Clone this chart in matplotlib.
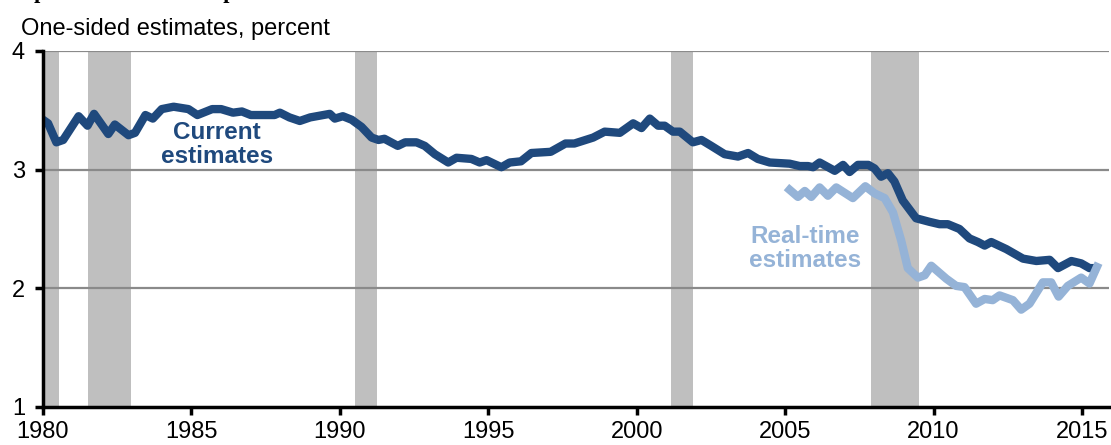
import matplotlib.pyplot as plt

# current estimates (year, percent)
cur_years = [1980.0, 1980.17, 1980.45, 1980.68, 1981.2, 1981.5, 1981.72, 1982.2, 1982.42, 1982.88,
             1983.1, 1983.45, 1983.7, 1984.0, 1984.4, 1984.9, 1985.2, 1985.7, 1986.0, 1986.4,
             1986.7, 1987.0, 1987.8, 1987.98, 1988.3, 1988.65, 1989.0, 1989.66, 1989.83, 1990.1,
             1990.4, 1990.73, 1991.07, 1991.3, 1991.5, 1991.95, 1992.2, 1992.58, 1992.86, 1993.2,
             1993.65, 1993.93, 1994.43, 1994.71, 1994.94, 1995.44, 1995.72, 1996.1, 1996.45, 1997.1,
             1997.6, 1997.9, 1998.53, 1998.92, 1999.43, 1999.88, 2000.16, 2000.44, 2000.72, 2000.94,
             2001.22, 2001.45, 2001.89, 2002.18, 2002.51, 2002.96, 2003.41, 2003.75, 2004.08, 2004.48,
             2005.15, 2005.49, 2005.77, 2005.94, 2006.16, 2006.67, 2006.95, 2007.17, 2007.45, 2007.8,
             2008.01, 2008.23, 2008.46, 2008.68, 2008.96, 2009.41, 2009.86, 2010.2, 2010.48, 2010.87,
             2011.21, 2011.49, 2011.72, 2011.94, 2012.45, 2013.01, 2013.46, 2013.91, 2014.19, 2014.64,
             2014.97, 2015.25, 2015.42]
cur_vals = [3.42, 3.39, 3.23, 3.25, 3.45, 3.37, 3.47, 3.30, 3.38, 3.29,
            3.31, 3.46, 3.43, 3.51, 3.53, 3.51, 3.46, 3.51, 3.51, 3.48,
            3.49, 3.46, 3.46, 3.48, 3.44, 3.41, 3.44, 3.47, 3.43, 3.45,
            3.42, 3.36, 3.27, 3.25, 3.26, 3.20, 3.23, 3.23, 3.20, 3.13,
            3.06, 3.10, 3.09, 3.06, 3.08, 3.02, 3.06, 3.07, 3.14, 3.15,
            3.22, 3.22, 3.27, 3.32, 3.31, 3.39, 3.35, 3.43, 3.37, 3.37,
            3.32, 3.32, 3.23, 3.25, 3.20, 3.13, 3.11, 3.14, 3.09, 3.06,
            3.05, 3.03, 3.03, 3.02, 3.06, 2.99, 3.04, 2.98, 3.04, 3.04,
            3.01, 2.94, 2.97, 2.90, 2.74, 2.59, 2.56, 2.54, 2.54, 2.50,
            2.42, 2.39, 2.36, 2.39, 2.33, 2.25, 2.23, 2.24, 2.17, 2.23,
            2.21, 2.17, 2.17]

# real-time estimates
rt_years = [2005.15, 2005.43, 2005.66, 2005.88, 2006.16, 2006.44, 2006.72, 2007.28, 2007.7, 2008.01,
            2008.35, 2008.63, 2008.91, 2009.13, 2009.47, 2009.7, 2009.92, 2010.43, 2010.76, 2011.04,
            2011.43, 2011.72, 2011.99, 2012.22, 2012.67, 2012.95, 2013.23, 2013.68, 2013.96, 2014.21,
            2014.52, 2014.97, 2015.25, 2015.5]
rt_vals = [2.83, 2.77, 2.82, 2.77, 2.85, 2.78, 2.85, 2.76, 2.86, 2.80,
           2.76, 2.64, 2.40, 2.17, 2.09, 2.11, 2.19, 2.08, 2.02, 2.01,
           1.87, 1.91, 1.90, 1.94, 1.90, 1.82, 1.87, 2.05, 2.05, 1.93,
           2.02, 2.09, 2.04, 2.18]

# recessions (start, end)
rec_start = [1980.0, 1981.5, 1990.5, 2001.17, 2007.9]
rec_end = [1980.55, 1982.95, 1991.25, 2001.9, 2009.5]

x_ticks = [1980, 1985, 1990, 1995, 2000, 2005, 2010, 2015]
y_ticks = [1, 2, 3, 4]

DARK = '#1f497d'
LIGHT = '#95b3d7'

plt.rcParams['font.family'] = ['Liberation Sans', 'DejaVu Sans']

fig = plt.figure(figsize=(11.11, 4.45), dpi=100)
ax = fig.add_axes([0.0387, 0.0855, 0.9593, 0.80])

for s, e in zip(rec_start, rec_end):
    ax.axvspan(s, e, color='#bfbfbf', lw=0, zorder=1)

for v in [2, 3, 4]:
    ax.axhline(v, color='#8a8a8a', lw=1.6, zorder=2)

ax.plot(cur_years, cur_vals, color=DARK, lw=6, solid_joinstyle='round', zorder=3)
ax.plot(rt_years, rt_vals, color=LIGHT, lw=6, solid_joinstyle='round', zorder=4)

ax.text(1985.85, 3.21, 'Current\nestimates', color=DARK, fontsize=17.5, fontweight='bold',
        ha='center', va='center', linespacing=1.05)
ax.text(2005.66, 2.335, 'Real-time\nestimates', color=LIGHT, fontsize=17.5, fontweight='bold',
        ha='center', va='center', linespacing=1.05)

ax.set_xlim(1980, 2015.9)
ax.set_ylim(1, 4)
ax.set_xticks(x_ticks)
ax.set_yticks(y_ticks)
ax.tick_params(axis='both', labelsize=17, width=2.5, length=6, color='black', direction='out')
ax.tick_params(axis='y', pad=7)
ax.tick_params(axis='x', pad=4)

for side in ['top', 'right']:
    ax.spines[side].set_visible(False)
for side in ['left', 'bottom']:
    ax.spines[side].set_linewidth(2.5)
    ax.spines[side].set_zorder(5)

fig.text(0.019, 0.921, 'One-sided estimates, percent', fontsize=17, ha='left', va='baseline')
# title sits mostly above the crop, only descenders show
fig.text(0.016, 1.004, 'Updated estimates of potential', fontsize=16, fontweight='bold',
         family=['Liberation Serif', 'DejaVu Serif'], ha='left', va='baseline')

fig.savefig('out.png', dpi=100)
